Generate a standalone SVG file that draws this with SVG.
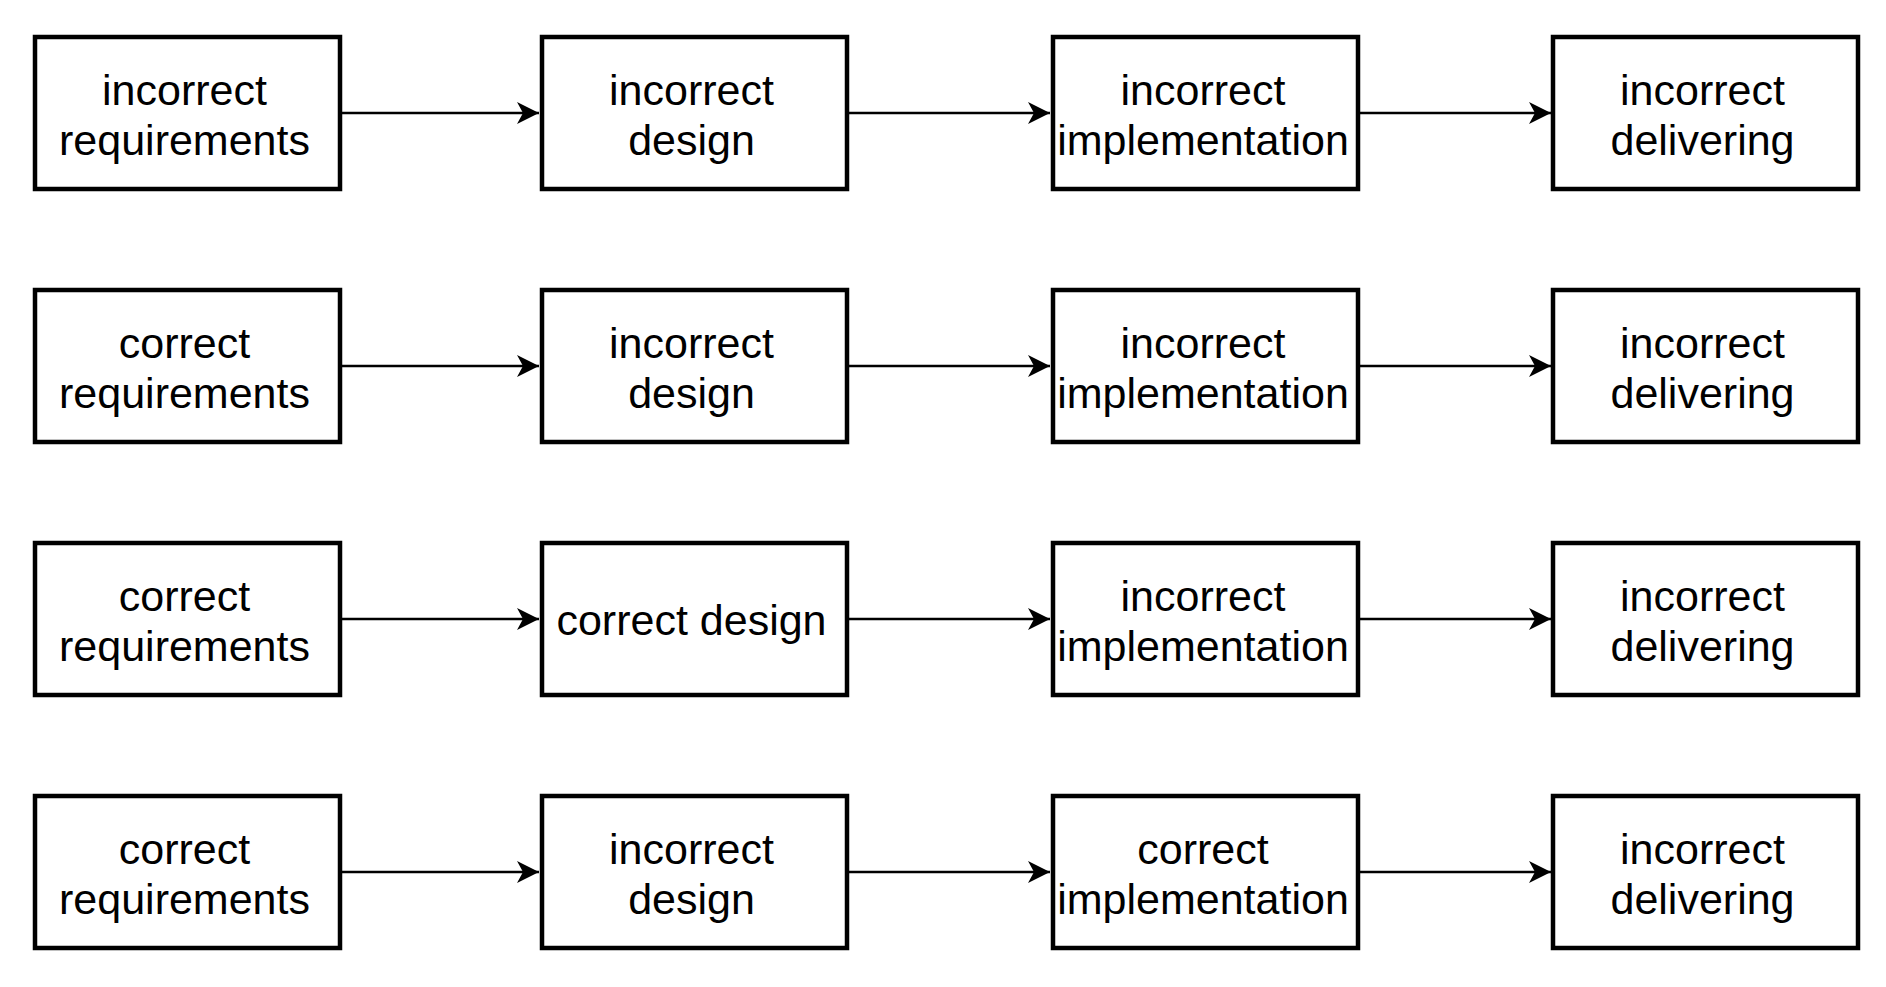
<svg xmlns="http://www.w3.org/2000/svg" width="1886" height="987" viewBox="0 0 1886 987">
<style>
.box{fill:#fff;stroke:#000;stroke-width:4.5}
.t{font-family:"Liberation Sans",Arial,Helvetica,sans-serif;font-size:43px;fill:#000;text-anchor:middle}
.c{stroke:#000;stroke-width:2.4;fill:none}
</style>
<defs>
<marker id="ah" markerUnits="userSpaceOnUse" markerWidth="24" markerHeight="24" refX="22" refY="12" orient="auto">
<path d="M0,1 L22,12 L0,23 L6,12 Z" fill="#000"/>
</marker>
</defs>
<rect width="1886" height="987" fill="#fff"/>
<g id="connectors">
<line class="c" x1="340" y1="113" x2="539" y2="113" marker-end="url(#ah)"/>
<line class="c" x1="847" y1="113" x2="1050" y2="113" marker-end="url(#ah)"/>
<line class="c" x1="1358" y1="113" x2="1551" y2="113" marker-end="url(#ah)"/>
<line class="c" x1="340" y1="366" x2="539" y2="366" marker-end="url(#ah)"/>
<line class="c" x1="847" y1="366" x2="1050" y2="366" marker-end="url(#ah)"/>
<line class="c" x1="1358" y1="366" x2="1551" y2="366" marker-end="url(#ah)"/>
<line class="c" x1="340" y1="619" x2="539" y2="619" marker-end="url(#ah)"/>
<line class="c" x1="847" y1="619" x2="1050" y2="619" marker-end="url(#ah)"/>
<line class="c" x1="1358" y1="619" x2="1551" y2="619" marker-end="url(#ah)"/>
<line class="c" x1="340" y1="872" x2="539" y2="872" marker-end="url(#ah)"/>
<line class="c" x1="847" y1="872" x2="1050" y2="872" marker-end="url(#ah)"/>
<line class="c" x1="1358" y1="872" x2="1551" y2="872" marker-end="url(#ah)"/>
</g>
<g id="r1c1"><rect class="box" x="35" y="37" width="305" height="152"/><text class="t" x="184.5" y="105">incorrect</text><text class="t" x="184.5" y="155">requirements</text></g>
<g id="r1c2"><rect class="box" x="542" y="37" width="305" height="152"/><text class="t" x="691.5" y="105">incorrect</text><text class="t" x="691.5" y="155">design</text></g>
<g id="r1c3"><rect class="box" x="1053" y="37" width="305" height="152"/><text class="t" x="1203" y="105">incorrect</text><text class="t" x="1203" y="155">implementation</text></g>
<g id="r1c4"><rect class="box" x="1553" y="37" width="305" height="152"/><text class="t" x="1702.5" y="105">incorrect</text><text class="t" x="1702.5" y="155">delivering</text></g>

<g id="r2c1"><rect class="box" x="35" y="290" width="305" height="152"/><text class="t" x="184.5" y="358">correct</text><text class="t" x="184.5" y="408">requirements</text></g>
<g id="r2c2"><rect class="box" x="542" y="290" width="305" height="152"/><text class="t" x="691.5" y="358">incorrect</text><text class="t" x="691.5" y="408">design</text></g>
<g id="r2c3"><rect class="box" x="1053" y="290" width="305" height="152"/><text class="t" x="1203" y="358">incorrect</text><text class="t" x="1203" y="408">implementation</text></g>
<g id="r2c4"><rect class="box" x="1553" y="290" width="305" height="152"/><text class="t" x="1702.5" y="358">incorrect</text><text class="t" x="1702.5" y="408">delivering</text></g>

<g id="r3c1"><rect class="box" x="35" y="543" width="305" height="152"/><text class="t" x="184.5" y="611">correct</text><text class="t" x="184.5" y="661">requirements</text></g>
<g id="r3c2"><rect class="box" x="542" y="543" width="305" height="152"/><text class="t" x="691.5" y="635">correct design</text></g>
<g id="r3c3"><rect class="box" x="1053" y="543" width="305" height="152"/><text class="t" x="1203" y="611">incorrect</text><text class="t" x="1203" y="661">implementation</text></g>
<g id="r3c4"><rect class="box" x="1553" y="543" width="305" height="152"/><text class="t" x="1702.5" y="611">incorrect</text><text class="t" x="1702.5" y="661">delivering</text></g>

<g id="r4c1"><rect class="box" x="35" y="796" width="305" height="152"/><text class="t" x="184.5" y="864">correct</text><text class="t" x="184.5" y="914">requirements</text></g>
<g id="r4c2"><rect class="box" x="542" y="796" width="305" height="152"/><text class="t" x="691.5" y="864">incorrect</text><text class="t" x="691.5" y="914">design</text></g>
<g id="r4c3"><rect class="box" x="1053" y="796" width="305" height="152"/><text class="t" x="1203" y="864">correct</text><text class="t" x="1203" y="914">implementation</text></g>
<g id="r4c4"><rect class="box" x="1553" y="796" width="305" height="152"/><text class="t" x="1702.5" y="864">incorrect</text><text class="t" x="1702.5" y="914">delivering</text></g>
</svg>
